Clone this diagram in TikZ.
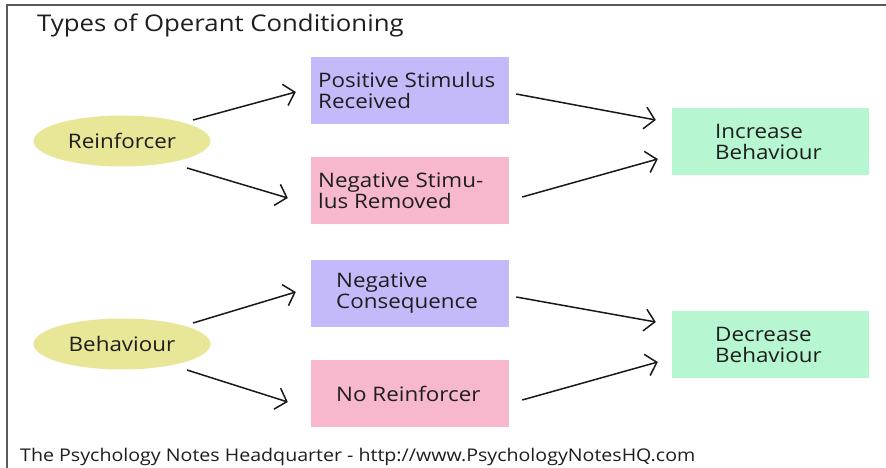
\documentclass[tikz,border=0pt]{standalone}
\usepackage{fontspec}
\setmainfont[FakeStretch=1.12]{Open Sans}
\usetikzlibrary{arrows.meta,shapes.geometric}
\definecolor{ell}{RGB}{232,231,152}
\definecolor{pur}{RGB}{196,186,250}
\definecolor{pnk}{RGB}{247,184,205}
\definecolor{grn}{RGB}{182,246,208}
\definecolor{txt}{RGB}{30,30,30}
\definecolor{frm}{RGB}{90,90,90}
\begin{document}
\begin{tikzpicture}[x=1pt,y=-1pt,
  every node/.style={text=txt,font=\fontsize{20}{21}\selectfont},
  oval/.style={ellipse,fill=ell,minimum width=177,minimum height=51,inner sep=0},
  boxa/.style={rectangle,fill=pur,minimum width=198,minimum height=67,inner sep=0},
  boxb/.style={rectangle,fill=pnk,minimum width=198,minimum height=67,inner sep=0},
  boxc/.style={rectangle,fill=grn,minimum width=197,minimum height=67,inner sep=0},
  lbl/.style={align=left,anchor=west,inner sep=0},
  arr/.style={-{Straight Barb[length=10pt,width=22pt]},line width=1.5pt,black!90}]
\useasboundingbox (0,0) rectangle (886,468);
\fill[white] (0,0) rectangle (886,468);
\draw[frm,line width=1.6pt] (7,470) -- (7,5) -- (890,5);
\node[anchor=west,inner sep=0,font=\fontsize{23}{26}\selectfont] (title) at (37,25) {Types of Operant Conditioning};
% top group
\node[oval] (reinf) at (122,141) {Reinforcer};
\node[boxa] (b1) at (410,90.5) {};
\node[lbl] (t1) at (318,90.5) {Positive Stimulus\\Received};
\node[boxb] (b2) at (410,190.5) {};
\node[lbl] (t2) at (318,190.5) {Negative Stimu-\\lus Removed};
\node[boxc] (inc) at (770.5,141.5) {};
\node[lbl] (t3) at (715,141.5) {Increase\\Behaviour};
% bottom group
\node[oval] (beh) at (122,344) {Behaviour};
\node[boxa] (b3) at (410,293) {};
\node[lbl] (t4) at (336,293) {Negative\\Consequence};
\node[boxb] (b4) at (410,393.5) {};
\node[lbl] (t5) at (336,393.5) {No Reinforcer};
\node[boxc] (dec) at (770.5,344.5) {};
\node[lbl] (t6) at (715,344.5) {Decrease\\Behaviour};
% arrows
\draw[arr] ([shift={(71,-21)}]reinf.center) -- ([shift={(-15,1.5)}]b1.west);
\draw[arr] ([shift={(65,27)}]reinf.center) -- ([shift={(-23,7.5)}]b2.west);
\draw[arr] ([shift={(7,3.5)}]b1.east) -- ([shift={(-16,-21.5)}]inc.west);
\draw[arr] ([shift={(13,6.5)}]b2.east) -- ([shift={(-14,17.5)}]inc.west);
\draw[arr] ([shift={(71,-21)}]beh.center) -- ([shift={(-15,-1)}]b3.west);
\draw[arr] ([shift={(65,26)}]beh.center) -- ([shift={(-23,8.5)}]b4.west);
\draw[arr] ([shift={(7,4)}]b3.east) -- ([shift={(-16,-22.5)}]dec.west);
\draw[arr] ([shift={(13,6.5)}]b4.east) -- ([shift={(-14,17.5)}]dec.west);
\node[anchor=west,inner sep=0,font=\fontsize{17.5}{21}\selectfont] (foot) at (20,457) {The Psychology Notes Headquarter - http://www.PsychologyNotesHQ.com};
\end{tikzpicture}
\end{document}
